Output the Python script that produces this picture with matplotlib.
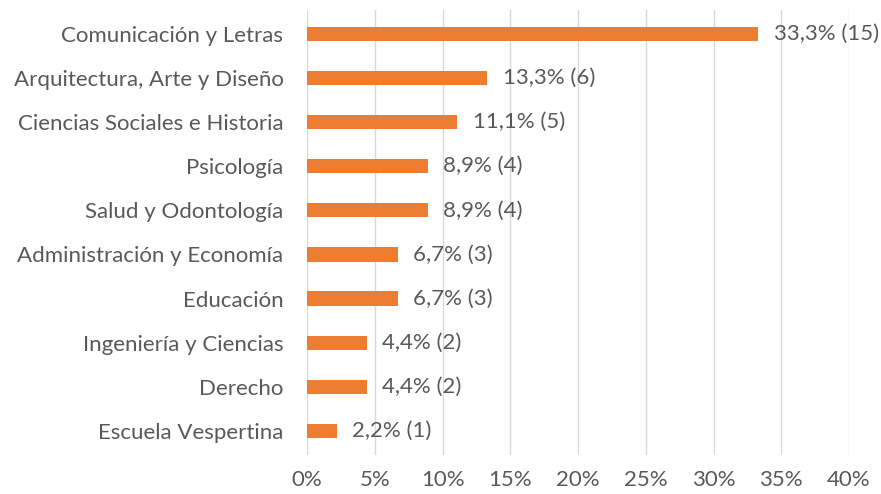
import matplotlib.pyplot as plt
from matplotlib.ticker import MultipleLocator, FuncFormatter

plt.rcParams['font.family'] = ['Lato', 'DejaVu Sans']

# data, top to bottom as shown
categories = [
    "Comunicación y Letras",
    "Arquitectura, Arte y Diseño",
    "Ciencias Sociales e Historia",
    "Psicología",
    "Salud y Odontología",
    "Administración y Economía",
    "Educación",
    "Ingeniería y Ciencias",
    "Derecho",
    "Escuela Vespertina",
]
percent = [33.3, 13.3, 11.1, 8.9, 8.9, 6.7, 6.7, 4.4, 4.4, 2.2]
counts = [15, 6, 5, 4, 4, 3, 3, 2, 2, 1]

BAR_COLOR = "#ED7D31"
TEXT_COLOR = "#595959"
GRID_COLOR = "#D9D9D9"
FS = 16

fig = plt.figure(figsize=(8.81, 4.94), dpi=100)
ax = fig.add_axes([0.3485, 0.079, 0.6152, 0.901])

y = list(range(len(categories)))[::-1]
ax.barh(y, percent, height=0.32, color=BAR_COLOR, zorder=3)

for yi, p, c in zip(y, percent, counts):
    lbl = f"{p:.1f}".replace(".", ",") + f"% ({c})"
    ax.annotate(lbl, (p, yi), xytext=(11, 0), textcoords="offset points",
                va="center", ha="left", fontsize=FS, color=TEXT_COLOR)

ax.set_xlim(0, 40)
ax.set_ylim(-0.55, 9.55)
ax.xaxis.set_major_locator(MultipleLocator(5))
ax.xaxis.set_major_formatter(FuncFormatter(lambda v, _: f"{v:.0f}%"))
ax.set_yticks(y)
ax.set_yticklabels(categories)
ax.tick_params(axis="both", length=0, labelsize=FS, colors=TEXT_COLOR)
ax.tick_params(axis="x", pad=11)
ax.tick_params(axis="y", pad=17)
ax.grid(axis="x", color=GRID_COLOR, linewidth=1, zorder=0)
for s in ax.spines.values():
    s.set_visible(False)

fig.savefig("out.png", dpi=100)
